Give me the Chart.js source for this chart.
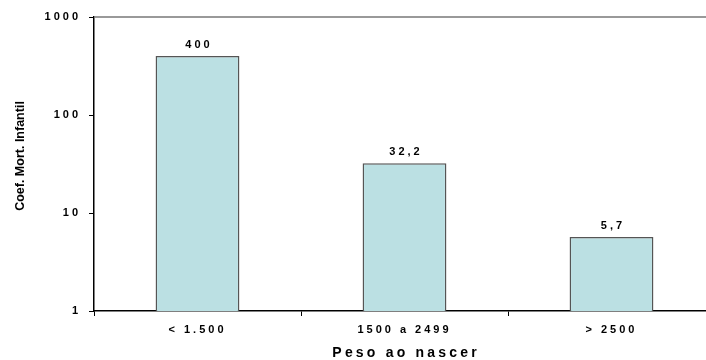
<!DOCTYPE html>
<html>
<head>
<meta charset="utf-8">
<script src="https://cdn.jsdelivr.net/npm/chart.js@4/dist/chart.umd.min.js"></script>
<style>
  html, body { margin: 0; padding: 0; background: #fff; overflow: hidden; }
  #wrap { position: relative; width: 722px; height: 360px; }
</style>
</head>
<body>
<div id="wrap"><canvas id="c"></canvas></div>
<script>
// Infant mortality coefficient by birth weight
const categories = ['< 1.500', '1500 a 2499', '> 2500'];
const mortality = [400, 32.2, 5.7];
const yTicks = [1, 10, 100, 1000];
const xTitle = 'Peso ao nascer';
const yTitle = 'Coef. Mort. Infantil';

const FONT = 'Arial, "Liberation Sans", sans-serif';

function fmt(v) {
  return String(v).replace('.', ',');
}

const textPlugin = {
  id: 'textPlugin',
  beforeLayout(chart) {
    chart.ctx.letterSpacing = '3px';
  },
  beforeDraw(chart) {
    chart.ctx.letterSpacing = '3px';
  },
  afterDatasetsDraw(chart) {
    const ctx = chart.ctx;
    const meta = chart.getDatasetMeta(0);
    ctx.save();
    ctx.letterSpacing = '3px';
    ctx.font = 'bold 11px ' + FONT;
    ctx.fillStyle = '#000';
    ctx.textAlign = 'center';
    ctx.textBaseline = 'alphabetic';
    meta.data.forEach((bar, i) => {
      ctx.fillText(fmt(mortality[i]), bar.x + 1.5, bar.y - 8);
    });
    ctx.restore();
  },
  afterDraw(chart) {
    const ctx = chart.ctx;
    const a = chart.chartArea;
    ctx.save();
    // top frame line
    ctx.strokeStyle = '#777';
    ctx.lineWidth = 1.5;
    ctx.beginPath();
    ctx.moveTo(a.left, a.top);
    ctx.lineTo(a.right, a.top);
    ctx.stroke();

    ctx.fillStyle = '#000';
    // x axis title
    ctx.letterSpacing = '3.2px';
    ctx.font = 'bold 14px ' + FONT;
    ctx.textAlign = 'center';
    ctx.textBaseline = 'alphabetic';
    const xs = chart.scales.x;
    const xc = (xs.getPixelForValue(0) + xs.getPixelForValue(2)) / 2;
    ctx.fillText(xTitle, xc + 1.6, 357);

    // y axis title
    ctx.letterSpacing = '0px';
    ctx.font = 'bold 12.5px ' + FONT;
    ctx.translate(24, 156);
    ctx.rotate(-Math.PI / 2);
    ctx.fillText(yTitle, 0, 0);
    ctx.restore();
  }
};

new Chart(document.getElementById('c'), {
  type: 'bar',
  data: {
    labels: categories,
    datasets: [{
      data: mortality,
      backgroundColor: '#bbe0e3',
      borderColor: '#555',
      borderWidth: 1.5,
      categoryPercentage: 0.405,
      barPercentage: 1
    }]
  },
  options: {
    responsive: true,
    maintainAspectRatio: false,
    animation: false,
    layout: { padding: { top: 17, right: 7, left: 0, bottom: 0 } },
    plugins: {
      legend: { display: false },
      tooltip: { enabled: false },
      title: { display: false }
    },
    scales: {
      x: {
        offset: true,
        grid: {
          offset: true,
          drawOnChartArea: false,
          drawTicks: true,
          tickLength: 5,
          color: '#000',
          lineWidth: 1
        },
        border: { color: '#000', width: 1.5 },
        ticks: {
          color: '#000',
          font: { family: FONT, size: 11, weight: 'bold' },
          padding: 7,
          maxRotation: 0
        },
        afterFit(s) { s.height = 49; }
      },
      y: {
        type: 'logarithmic',
        min: 1,
        max: 1000,
        afterBuildTicks(s) { s.ticks = yTicks.map(v => ({ value: v })); },
        grid: {
          drawOnChartArea: false,
          drawTicks: true,
          tickLength: 5,
          color: '#000',
          lineWidth: 1
        },
        border: { color: '#000', width: 1.5 },
        ticks: {
          color: '#000',
          font: { family: FONT, size: 11, weight: 'bold' },
          padding: 8,
          callback: v => String(v)
        },
        afterFit(s) { s.width = 94; }
      }
    }
  },
  plugins: [textPlugin]
});
</script>
</body>
</html>
